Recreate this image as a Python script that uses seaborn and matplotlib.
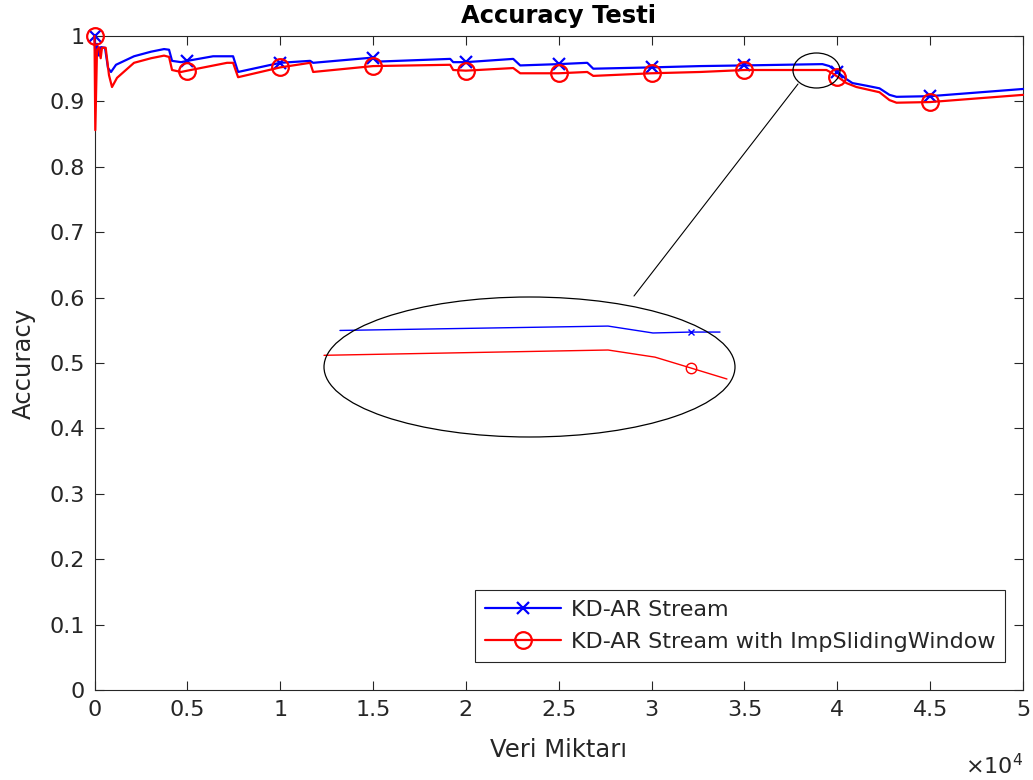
import numpy as np
import pandas as pd
import matplotlib
matplotlib.use("Agg")
import matplotlib.pyplot as plt
import seaborn as sns
from matplotlib.patches import Ellipse
from matplotlib.lines import Line2D

# ---------------- data ----------------
blue_x = [0, 54, 135, 242, 350, 566, 727, 889, 1158, 2128,
          3044, 3745, 4014, 4176, 4661, 5000, 6385, 7462, 7732, 10000,
          11612, 11774, 15000, 15382, 19154, 19316, 20000, 22548, 22925, 25000,
          26535, 26858, 30000, 32624, 35000, 39199, 39576, 40000, 40493, 40816,
          41570, 42271, 42810, 43187, 45000, 50000]
blue_y = [1.000, 0.963, 0.988, 0.970, 0.983, 0.982, 0.951, 0.945, 0.956, 0.969,
          0.976, 0.980, 0.979, 0.962, 0.960, 0.962, 0.969, 0.969, 0.945, 0.959,
          0.962, 0.959, 0.967, 0.961, 0.965, 0.960, 0.960, 0.965, 0.955, 0.957,
          0.959, 0.950, 0.952, 0.954, 0.955, 0.957, 0.954, 0.945, 0.934, 0.928,
          0.924, 0.920, 0.910, 0.907, 0.908, 0.919]

red_x = [0, 43, 135, 242, 334, 404, 603, 781, 943, 1212,
         2128, 3044, 3745, 4014, 4176, 4661, 5000, 7139, 7462, 7732,
         10000, 11612, 11774, 15000, 19154, 19316, 20000, 22548, 22925, 25000,
         26535, 26858, 30000, 32624, 35000, 39415, 39738, 40000, 40493, 41031,
         42271, 42810, 43187, 45000, 50000]
red_y = [1.000, 0.856, 0.979, 0.983, 0.966, 0.982, 0.982, 0.940, 0.922, 0.936,
         0.959, 0.966, 0.970, 0.968, 0.948, 0.945, 0.947, 0.959, 0.959, 0.937,
         0.952, 0.959, 0.945, 0.954, 0.956, 0.948, 0.947, 0.951, 0.943, 0.943,
         0.945, 0.939, 0.943, 0.945, 0.948, 0.948, 0.943, 0.938, 0.928, 0.922,
         0.914, 0.902, 0.898, 0.899, 0.910]

marker_x = [0, 5000, 10000, 15000, 20000, 25000, 30000, 35000, 40000, 45000]

# zoomed inset (detail around x = 3.8e4 .. 4.0e4)
inset_blue_x = [37781, 39477, 39761, 40000, 40185]
inset_blue_y = [0.9555, 0.9574, 0.9544, 0.9548, 0.9548]
inset_red_x = [37680, 39477, 39774, 40000, 40229]
inset_red_y = [0.9447, 0.9470, 0.9439, 0.9392, 0.9344]
inset_marker_x = [40000]

series_names = ["KD-AR Stream", "KD-AR Stream with ImpSlidingWindow"]
x_ticks = [0, 5000, 10000, 15000, 20000, 25000, 30000, 35000, 40000, 45000, 50000]
x_tick_labels = ["0", "0.5", "1", "1.5", "2", "2.5", "3", "3.5", "4", "4.5", "5"]
y_ticks = [0, 0.1, 0.2, 0.3, 0.4, 0.5, 0.6, 0.7, 0.8, 0.9, 1.0]
y_tick_labels = ["0", "0.1", "0.2", "0.3", "0.4", "0.5", "0.6", "0.7", "0.8", "0.9", "1"]

# ---------------- style ----------------
sns.set_style("ticks")
FG = "#262626"
plt.rcParams.update({
    "font.family": ["DejaVu Sans"],
    "mathtext.fontset": "custom",
    "mathtext.rm": "DejaVu Sans",
    "xtick.direction": "in",
    "ytick.direction": "in",
    "xtick.top": True,
    "ytick.right": True,
    "axes.edgecolor": FG,
    "xtick.color": FG,
    "ytick.color": FG,
    "axes.labelcolor": FG,
    "text.color": FG,
})

W, H = 1033, 780
fig = plt.figure(figsize=(W / 100, H / 100), dpi=100)
ax = fig.add_axes([94.5 / W, 1 - 690 / H, 928.5 / W, 654 / H])

df_blue = pd.DataFrame({"x": blue_x, "y": blue_y})
df_red = pd.DataFrame({"x": red_x, "y": red_y})
blue_idx = [blue_x.index(v) for v in marker_x]
red_idx = [red_x.index(v) for v in marker_x]

sns.lineplot(data=df_blue, x="x", y="y", ax=ax, estimator=None, sort=False,
             color="#0000ff", lw=1.6, marker="x", markevery=blue_idx, ms=9,
             mec="#0000ff", mfc="none", mew=1.6, zorder=3, clip_on=False)
sns.lineplot(data=df_red, x="x", y="y", ax=ax, estimator=None, sort=False,
             color="#ff0000", lw=1.6, marker="o", markevery=red_idx, ms=12,
             mec="#ff0000", mfc="none", mew=1.6, zorder=4, clip_on=False)

ax.set_xlim(0, 50000)
ax.set_ylim(0, 1)
ax.set_xticks(x_ticks)
ax.set_xticklabels(x_tick_labels)
ax.set_yticks(y_ticks)
ax.set_yticklabels(y_tick_labels)
ax.tick_params(axis="both", length=6.5, width=0.8, labelsize=16, pad=7)
for s in ax.spines.values():
    s.set_linewidth(0.8)
    s.set_visible(True)

ax.set_title("Accuracy Testi", fontsize=17.5, fontweight="bold", pad=9, color="black")
ax.set_xlabel("Veri Miktarı", fontsize=17.5, labelpad=13)
ax.set_ylabel("Accuracy", fontsize=17.5, labelpad=10)
ax.text(1.0, -0.115, r"$\mathregular{\times10^{4}}$", transform=ax.transAxes,
        ha="right", va="center", fontsize=16, color=FG)

handles = [
    Line2D([], [], color="#0000ff", lw=1.6, marker="x", ms=9, mew=1.6),
    Line2D([], [], color="#ff0000", lw=1.6, marker="o", ms=12, mew=1.6, mfc="none"),
]
leg = ax.legend(handles, series_names, loc="lower right",
                bbox_to_anchor=(0.981, 0.043), borderaxespad=0,
                fontsize=16, frameon=True, fancybox=False, framealpha=1,
                edgecolor=FG, handlelength=3.4, handletextpad=0.45,
                labelspacing=0.55, borderpad=0.45)
leg.get_frame().set_linewidth(0.8)

# ---------------- magnifier ellipses ----------------
big = Ellipse((529.5 / W, 1 - 367 / H), 411 / W, 140 / H,
              transform=fig.transFigure, fill=False, ec="black", lw=0.9, zorder=10)
fig.add_artist(big)
small = Ellipse((816.5 / W, 1 - 70.5 / H), 47 / W, 35 / H,
                transform=fig.transFigure, fill=False, ec="black", lw=0.9, zorder=10)
fig.add_artist(small)
fig.add_artist(Line2D([798 / W, 634 / W], [1 - 84 / H, 1 - 296 / H],
                      transform=fig.transFigure, color="black", lw=0.8, zorder=10))

iax = fig.add_axes([324 / W, 1 - 437 / H, 411 / W, 139 / H])
iax.set_axis_off()
iax.patch.set_alpha(0)
df_ib = pd.DataFrame({"x": inset_blue_x, "y": inset_blue_y})
df_ir = pd.DataFrame({"x": inset_red_x, "y": inset_red_y})
sns.lineplot(data=df_ib, x="x", y="y", ax=iax, estimator=None, sort=False,
             color="#0000ff", lw=1.0, marker="x", ms=5,
             markevery=[inset_blue_x.index(v) for v in inset_marker_x],
             mec="#0000ff", mew=1.0, clip_on=False)
sns.lineplot(data=df_ir, x="x", y="y", ax=iax, estimator=None, sort=False,
             color="#ff0000", lw=1.0, marker="o", ms=7.5, mfc="none",
             markevery=[inset_red_x.index(v) for v in inset_marker_x],
             mec="#ff0000", mew=1.0, clip_on=False)
iax.set_xlim(37680, 40280)
iax.set_ylim(0.9092, 0.9696)
if iax.get_legend() is not None:
    iax.get_legend().remove()

fig.savefig("out.png", dpi=100)
